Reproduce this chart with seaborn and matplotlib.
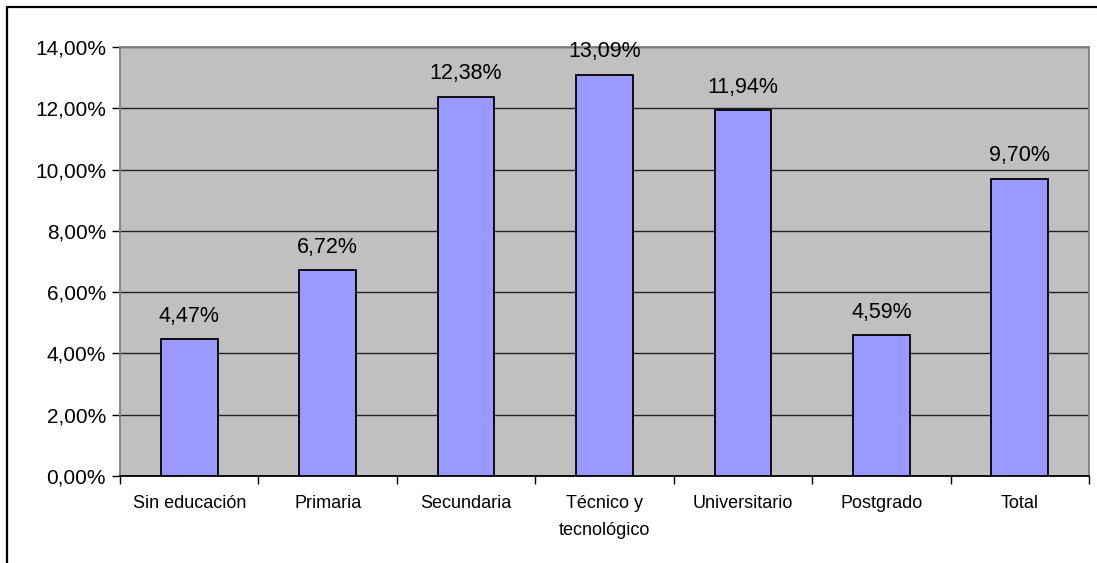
import matplotlib
matplotlib.use("Agg")
import matplotlib.pyplot as plt
import seaborn as sns
import pandas as pd
from matplotlib.lines import Line2D
from matplotlib.ticker import FixedLocator

# Datos
categorias = ["Sin educación", "Primaria", "Secundaria", "Técnico y\ntecnológico",
              "Universitario", "Postgrado", "Total"]
valores = [4.47, 6.72, 12.38, 13.09, 11.94, 4.59, 9.70]
y_ticks = [0, 2, 4, 6, 8, 10, 12, 14]

df = pd.DataFrame({"categoria": categorias, "valor": valores})

sns.set_theme(style="white")
plt.rcParams['font.family'] = ['Liberation Sans', 'DejaVu Sans']
plt.rcParams['text.color'] = 'black'
plt.rcParams['xtick.color'] = 'black'
plt.rcParams['ytick.color'] = 'black'

fig = plt.figure(figsize=(10.97, 5.63), dpi=100)
ax = fig.add_axes([120 / 1097, 1 - 476 / 563, (1089 - 120) / 1097, (476 - 47) / 563])
ax.set_facecolor("#C0C0C0")

sns.barplot(data=df, x="categoria", y="valor", color="#9999FF", saturation=1,
            edgecolor="black", linewidth=1.3, width=0.41, ax=ax, zorder=3)

ax.set_ylim(0, 14)
ax.set_xlim(-0.5, len(categorias) - 0.5)
ax.set_yticks(y_ticks)
ax.set_yticklabels([f"{t:.2f}%".replace(".", ",") for t in y_ticks], fontsize=15)
ax.yaxis.grid(True, color="#222222", linewidth=1, zorder=1)
ax.set_axisbelow(True)

ax.set_xticks(range(len(categorias)))
ax.set_xticklabels(categorias, fontsize=13, linespacing=1.7)
ax.tick_params(axis="x", which="major", length=0, pad=14)
ax.xaxis.set_minor_locator(FixedLocator([i - 0.5 for i in range(len(categorias) + 1)]))
ax.tick_params(axis="x", which="minor", length=6, width=1, color="black", direction="out", bottom=True)
ax.tick_params(axis="y", length=6, width=1, color="black", direction="out", left=True, pad=4)

ax.set_xlabel("")
ax.set_ylabel("")

for s in ["left", "top", "right"]:
    ax.spines[s].set_color("#808080")
    ax.spines[s].set_linewidth(1.3)
ax.spines["bottom"].set_color("black")
ax.spines["bottom"].set_linewidth(1.3)

for i, v in enumerate(valores):
    ax.annotate(f"{v:.2f}%".replace(".", ","), (i, v), xytext=(0, 9),
                textcoords="offset points", ha="center", va="bottom", fontsize=15.5)

# Borde exterior del gráfico
x0 = 7 / 1097
y0 = 1 - 7 / 563
fig.add_artist(Line2D([x0, 1.01], [y0, y0], color="black", linewidth=1.6, transform=fig.transFigure))
fig.add_artist(Line2D([x0, x0], [-0.01, y0], color="black", linewidth=1.6, transform=fig.transFigure))

fig.savefig("out.png", dpi=100)
